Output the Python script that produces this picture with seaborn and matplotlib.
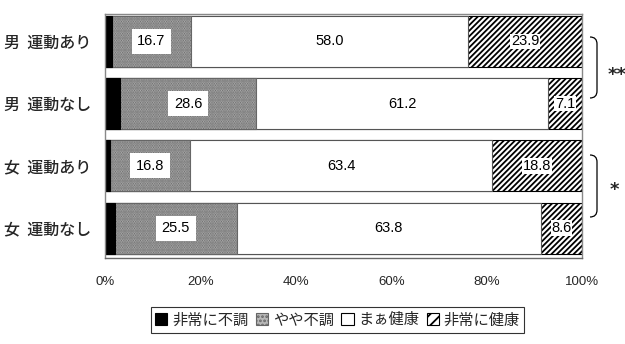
import matplotlib
matplotlib.use("Agg")
import matplotlib.pyplot as plt
from matplotlib.patches import Patch
from matplotlib.path import Path
from matplotlib.patches import PathPatch
import seaborn as sns
import pandas as pd
import numpy as np

categories = ['男  運動あり', '男  運動なし', '女  運動あり', '女  運動なし']
series_names = ['非常に不調', 'やや不調', 'まぁ健康', '非常に健康']
very_poor = [1.4, 3.1, 1.0, 2.1]
slightly_poor = [16.7, 28.6, 16.8, 25.5]
fairly_healthy = [58.0, 61.2, 63.4, 63.8]
very_healthy = [23.9, 7.1, 18.8, 8.6]
xticks = [0, 20, 40, 60, 80, 100]
xtick_labels = ['0%', '20%', '40%', '60%', '80%', '100%']
significance = ['**', '*']

sns.set_theme(style='white')
plt.rcParams['font.family'] = ['Noto Sans CJK JP', 'DejaVu Sans']
plt.rcParams['hatch.linewidth'] = 1.3

fig = plt.figure(figsize=(6.25, 3.44), dpi=100)
ax = fig.add_axes([105 / 625, 1 - 258 / 344, 477 / 625, 244 / 344])

series = [very_poor, slightly_poor, fairly_healthy, very_healthy]
cum = np.cumsum(np.array(series), axis=0)
styles = [
    dict(face='black', edge='black', hatch=None),
    dict(face='#b8b8b8', edge='#666666', hatch='.......'),
    dict(face='white', edge='#555555', hatch=None),
    dict(face='white', edge='black', hatch='//////'),
]

# draw from the outermost cumulative layer inward
for i in range(3, -1, -1):
    df = pd.DataFrame({'cat': categories, 'val': cum[i]})
    n_before = len(ax.patches)
    sns.barplot(data=df, x='val', y='cat', orient='h', ax=ax,
                color=styles[i]['face'], edgecolor=styles[i]['edge'],
                linewidth=0.8, width=0.82, saturation=1)
    for p in ax.patches[n_before:]:
        p.set_facecolor(styles[i]['face'])
        p.set_edgecolor(styles[i]['edge'])
        if styles[i]['hatch']:
            p.set_hatch(styles[i]['hatch'])

# value labels
for r in range(len(categories)):
    for i in range(1, 4):
        left = cum[i - 1][r]
        v = series[i][r]
        xc = left + v / 2
        if i == 1:
            bbox = dict(facecolor='white', edgecolor='none', pad=4)
        elif i == 3:
            bbox = dict(facecolor='white', edgecolor='none', pad=0.5)
        else:
            bbox = None
        ax.text(xc, r, f'{v:.1f}', ha='center', va='center', fontsize=10.5,
                family='Liberation Sans', color='black', bbox=bbox)

ax.set_xlim(0, 100)
ax.set_ylim(3.48, -0.44)
ax.set_xticks(xticks)
ax.set_xticklabels(xtick_labels, fontsize=9.5, family='Liberation Sans')
ax.tick_params(axis='x', direction='in', length=4, pad=13, color='black')
ax.tick_params(axis='y', length=0, pad=10, labelsize=11.5)
for lbl in ax.get_yticklabels():
    lbl.set_fontweight('medium')
ax.set_xlabel('')
ax.set_ylabel('')
for s in ax.spines.values():
    s.set_color('#888888')
    s.set_linewidth(1.0)
ax.spines['bottom'].set_color('#666666')

# legend
handles = [Patch(facecolor='black', edgecolor='black', linewidth=0.8),
           Patch(facecolor='#b8b8b8', edgecolor='#666666', hatch='....', linewidth=0.8),
           Patch(facecolor='white', edgecolor='black', linewidth=0.8),
           Patch(facecolor='white', edgecolor='black', hatch='///', linewidth=0.8)]
leg = fig.legend(handles, series_names, loc='center', bbox_to_anchor=(0.54, 0.07),
                 ncol=4, fontsize=11, frameon=True, fancybox=False,
                 handlelength=0.8, handleheight=0.8, handletextpad=0.3,
                 columnspacing=0.5, borderpad=0.3)
leg.get_frame().set_edgecolor('black')
leg.get_frame().set_linewidth(0.8)

# significance brackets (figure pixel coords)
def bracket(y0, y1):
    x0, x1 = 590, 597
    pts = [(x0, y0), (x1, y0), (x1, y0 + 7),
           (x1, y1 - 7), (x1, y1), (x0, y1)]
    codes = [Path.MOVETO, Path.CURVE3, Path.CURVE3,
             Path.LINETO, Path.CURVE3, Path.CURVE3]
    pts = [(x / 625, 1 - y / 344) for x, y in pts]
    fig.add_artist(PathPatch(Path(pts, codes), facecolor='none', edgecolor='black',
                             linewidth=0.9, transform=fig.transFigure))

bracket(37, 98)
bracket(155, 217)
fig.text(617 / 625, 1 - 75 / 344, significance[0], ha='center', va='center',
         fontsize=13, fontweight='bold', family='DejaVu Sans')
fig.text(614 / 625, 1 - 190 / 344, significance[1], ha='center', va='center',
         fontsize=13, fontweight='bold', family='DejaVu Sans')

fig.savefig('out.png', dpi=100)
